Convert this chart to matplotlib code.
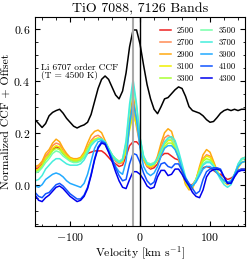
import numpy as np
import matplotlib
matplotlib.use("Agg")
import matplotlib.pyplot as plt
from matplotlib.ticker import AutoMinorLocator

plt.rcParams['font.family'] = 'serif'
plt.rcParams['font.serif'] = ['cmr10']
plt.rcParams['mathtext.fontset'] = 'cm'
plt.rcParams['axes.formatter.use_mathtext'] = True

velocity = np.arange(-150, 151, 5)

# Li 6707 order CCF (black)
li_ccf = [0.25, 0.235, 0.22, 0.235, 0.265, 0.278, 0.285, 0.29, 0.275, 0.255,
          0.24, 0.225, 0.218, 0.225, 0.23, 0.24, 0.27, 0.32, 0.37, 0.405,
          0.418, 0.405, 0.375, 0.345, 0.33, 0.36, 0.43, 0.53, 0.595, 0.595,
          0.54, 0.46, 0.385, 0.33, 0.29, 0.273, 0.30, 0.33, 0.335, 0.35,
          0.365, 0.376, 0.37, 0.34, 0.30, 0.285, 0.28, 0.275, 0.265, 0.25,
          0.24, 0.243, 0.258, 0.275, 0.285, 0.29, 0.285, 0.29, 0.285, 0.29,
          0.29]

temps = [2500, 2700, 2900, 3100, 3300, 3500, 3700, 3900, 4100, 4300]
colors = ['#ee2222', '#ff8c55', '#ffaa11', '#f0f000', '#aaff33',
          '#77ffaa', '#44eedd', '#22aaff', '#1155ff', '#0000ee']

ccf_2500 = [0.06, 0.065, 0.08, 0.10, 0.115, 0.135, 0.145, 0.14, 0.12, 0.105,
            0.095, 0.09, 0.09, 0.095, 0.105, 0.12, 0.125, 0.13, 0.13, 0.13,
            0.12, 0.105, 0.09, 0.08, 0.07, 0.075, 0.11, 0.15, 0.165, 0.165,
            0.15, 0.10, 0.07, 0.06, 0.065, 0.08, 0.11, 0.12, 0.12, 0.11,
            0.10, 0.095, 0.06, 0.02, 0.0, 0.0, 0.02, 0.045, 0.065, 0.07,
            0.065, 0.055, 0.045, 0.04, 0.03, 0.02, 0.025, 0.035, 0.055, 0.06,
            0.06]
ccf_2700 = [0.065, 0.07, 0.085, 0.11, 0.125, 0.15, 0.16, 0.155, 0.13, 0.115,
            0.10, 0.095, 0.095, 0.10, 0.115, 0.145, 0.17, 0.185, 0.19, 0.18,
            0.155, 0.13, 0.11, 0.09, 0.08, 0.085, 0.13, 0.22, 0.30, 0.22,
            0.15, 0.095, 0.07, 0.065, 0.075, 0.10, 0.145, 0.18, 0.19, 0.18,
            0.145, 0.10, 0.05, 0.005, -0.01, -0.005, 0.02, 0.06, 0.10, 0.115,
            0.11, 0.08, 0.05, 0.03, 0.015, 0.005, 0.01, 0.035, 0.065, 0.085,
            0.09]
ccf_2900 = [0.07, 0.075, 0.09, 0.12, 0.135, 0.16, 0.175, 0.165, 0.14, 0.12,
            0.105, 0.10, 0.10, 0.105, 0.125, 0.16, 0.19, 0.205, 0.21, 0.20,
            0.17, 0.14, 0.115, 0.095, 0.085, 0.09, 0.14, 0.25, 0.35, 0.25,
            0.16, 0.10, 0.075, 0.065, 0.075, 0.11, 0.16, 0.20, 0.215, 0.205,
            0.16, 0.11, 0.05, 0.0, -0.02, -0.015, 0.02, 0.07, 0.115, 0.135,
            0.125, 0.09, 0.055, 0.03, 0.01, 0.0, 0.01, 0.04, 0.075, 0.10,
            0.105]
ccf_3100 = [0.055, 0.06, 0.075, 0.10, 0.115, 0.14, 0.15, 0.145, 0.125, 0.11,
            0.10, 0.095, 0.095, 0.10, 0.115, 0.14, 0.165, 0.175, 0.18, 0.175,
            0.155, 0.13, 0.11, 0.095, 0.085, 0.09, 0.13, 0.21, 0.27, 0.23,
            0.16, 0.10, 0.075, 0.07, 0.075, 0.095, 0.125, 0.155, 0.17, 0.17,
            0.145, 0.105, 0.055, 0.01, -0.015, -0.01, 0.02, 0.06, 0.095, 0.11,
            0.105, 0.08, 0.05, 0.03, 0.015, 0.005, 0.01, 0.035, 0.065, 0.085,
            0.09]
ccf_3300 = [0.05, 0.055, 0.07, 0.095, 0.11, 0.13, 0.14, 0.135, 0.12, 0.105,
            0.095, 0.09, 0.09, 0.095, 0.11, 0.135, 0.16, 0.17, 0.175, 0.175,
            0.16, 0.135, 0.115, 0.10, 0.09, 0.095, 0.14, 0.23, 0.30, 0.25,
            0.17, 0.105, 0.08, 0.075, 0.08, 0.095, 0.12, 0.145, 0.16, 0.16,
            0.14, 0.105, 0.06, 0.015, -0.01, -0.005, 0.02, 0.055, 0.09, 0.10,
            0.095, 0.075, 0.05, 0.03, 0.015, 0.01, 0.015, 0.04, 0.07, 0.085,
            0.09]
ccf_3500 = [0.045, 0.05, 0.065, 0.085, 0.10, 0.12, 0.13, 0.125, 0.11, 0.10,
            0.09, 0.085, 0.085, 0.09, 0.105, 0.13, 0.155, 0.17, 0.175, 0.175,
            0.165, 0.14, 0.115, 0.10, 0.09, 0.10, 0.16, 0.29, 0.385, 0.30,
            0.18, 0.11, 0.085, 0.08, 0.085, 0.10, 0.13, 0.16, 0.175, 0.175,
            0.155, 0.115, 0.065, 0.02, -0.005, -0.005, 0.02, 0.05, 0.08, 0.09,
            0.09, 0.075, 0.05, 0.03, 0.01, 0.005, 0.01, 0.04, 0.075, 0.095,
            0.10]
ccf_3700 = [0.015, 0.02, 0.035, 0.06, 0.075, 0.09, 0.10, 0.10, 0.09, 0.08,
            0.075, 0.075, 0.075, 0.08, 0.095, 0.12, 0.15, 0.165, 0.175, 0.175,
            0.165, 0.14, 0.115, 0.095, 0.085, 0.095, 0.17, 0.31, 0.405, 0.31,
            0.18, 0.11, 0.08, 0.075, 0.08, 0.10, 0.135, 0.165, 0.18, 0.185,
            0.17, 0.13, 0.08, 0.03, 0.0, -0.005, 0.015, 0.045, 0.075, 0.085,
            0.085, 0.07, 0.045, 0.02, 0.0, -0.01, 0.0, 0.035, 0.08, 0.10,
            0.105]
ccf_3900 = [-0.005, -0.01, 0.0, 0.02, 0.03, 0.04, 0.045, 0.04, 0.03, 0.015,
            0.005, 0.0, -0.005, -0.01, 0.005, 0.04, 0.09, 0.14, 0.165, 0.17,
            0.16, 0.13, 0.10, 0.07, 0.05, 0.04, 0.09, 0.23, 0.32, 0.25,
            0.14, 0.07, 0.045, 0.035, 0.045, 0.07, 0.11, 0.14, 0.15, 0.15,
            0.135, 0.105, 0.06, 0.02, 0.0, -0.005, 0.01, 0.035, 0.06, 0.07,
            0.07, 0.06, 0.045, 0.03, 0.015, 0.01, 0.015, 0.04, 0.07, 0.085,
            0.09]
ccf_4100 = [-0.03, -0.045, -0.05, -0.035, -0.03, -0.015, 0.0, 0.005, -0.005, -0.02,
            -0.035, -0.045, -0.055, -0.055, -0.04, -0.01, 0.04, 0.10, 0.145, 0.165,
            0.16, 0.13, 0.10, 0.065, 0.035, 0.015, 0.02, 0.08, 0.12, 0.115,
            0.085, 0.045, 0.015, 0.0, 0.01, 0.05, 0.08, 0.085, 0.07, 0.065,
            0.08, 0.08, 0.055, 0.025, 0.005, -0.015, -0.035, -0.025, 0.02, 0.05,
            0.06, 0.065, 0.065, 0.06, 0.03, 0.005, 0.01, 0.035, 0.055, 0.06,
            0.06]
ccf_4300 = [-0.04, -0.06, -0.065, -0.05, -0.04, -0.025, -0.01, -0.005, -0.015, -0.03,
            -0.045, -0.055, -0.065, -0.06, -0.045, -0.015, 0.035, 0.095, 0.14, 0.16,
            0.155, 0.125, 0.09, 0.05, 0.015, -0.01, -0.015, 0.02, 0.05, 0.05,
            0.04, 0.02, -0.005, -0.015, -0.01, 0.03, 0.055, 0.055, 0.035, 0.04,
            0.06, 0.06, 0.04, 0.015, -0.005, -0.03, -0.045, -0.05, -0.02, 0.03,
            0.05, 0.058, 0.06, 0.055, 0.03, 0.005, 0.005, 0.03, 0.05, 0.055,
            0.055]

tio_ccfs = [ccf_2500, ccf_2700, ccf_2900, ccf_3100, ccf_3300,
            ccf_3500, ccf_3700, ccf_3900, ccf_4100, ccf_4300]

fig = plt.figure(figsize=(2.49, 2.61), dpi=100)
ax = fig.add_axes([0.141, 0.133, 0.843, 0.802])

for t, c, ccf in zip(temps, colors, tio_ccfs):
    ax.plot(velocity, ccf, color=c, lw=1.1, label=str(t))

ax.plot(velocity, li_ccf, color='k', lw=1.1)
ax.axvline(-9.5, color='#aaaaaa', lw=1.5)
ax.axvline(0, color='k', lw=1.0)

ax.text(-141, 0.435, "Li 6707 order CCF\n(T = 4500 K)", fontsize=6.8,
        va='center', ha='left', linespacing=0.85)

ax.set_xlim(-150, 150)
ax.set_ylim(-0.16, 0.645)
ax.set_xticks([-100, 0, 100])
ax.set_yticks([0.0, 0.2, 0.4, 0.6])
ax.xaxis.set_minor_locator(AutoMinorLocator())
ax.yaxis.set_minor_locator(AutoMinorLocator())
ax.tick_params(which='both', direction='in', top=True, right=True, labelsize=8.5)
ax.tick_params(which='major', length=3.5)
ax.tick_params(which='minor', length=1.8)

ax.set_xlabel(r"Velocity [km s$^{-1}$]", fontsize=8.5, labelpad=1)
ax.set_ylabel("Normalized CCF + Offset", fontsize=8.5, labelpad=2)
ax.set_title("TiO 7088, 7126 Bands", fontsize=10, pad=3)

ax.legend(loc='upper right', ncol=2, frameon=False, fontsize=6.2,
          handlelength=1.3, columnspacing=0.8, labelspacing=0.42,
          handletextpad=0.7, borderaxespad=0.7)

fig.savefig("out.png", dpi=100)
